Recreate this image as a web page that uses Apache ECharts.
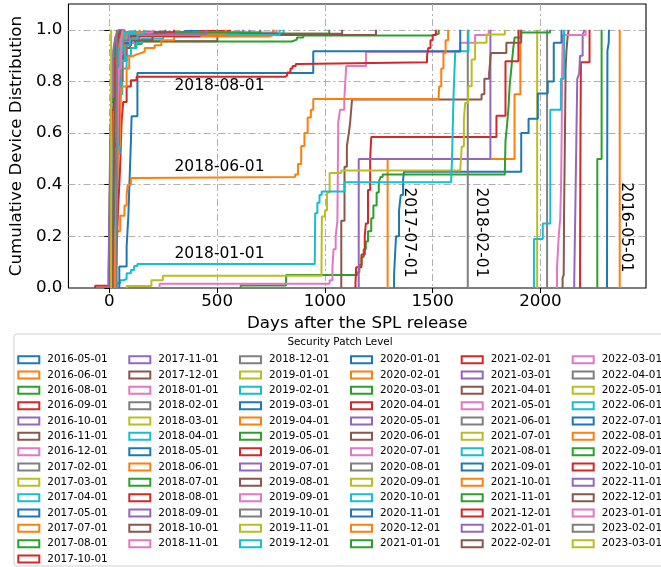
<!DOCTYPE html>
<html><head><meta charset="utf-8">
<script src="https://cdn.jsdelivr.net/npm/echarts@6/dist/echarts.min.js"></script>
<style>html,body{margin:0;padding:0;background:#fff}#c{width:661px;height:567px}</style>
</head><body><div id="c"></div>
<script>
// ---------- categories ----------
const splLevels = ['2016-05-01','2016-06-01','2016-08-01','2016-09-01','2016-10-01','2016-11-01','2016-12-01',
 '2017-02-01','2017-03-01','2017-04-01','2017-05-01','2017-07-01','2017-08-01','2017-10-01','2017-11-01','2017-12-01',
 '2018-01-01','2018-02-01','2018-03-01','2018-04-01','2018-05-01','2018-06-01','2018-07-01','2018-08-01','2018-09-01','2018-10-01','2018-11-01','2018-12-01',
 '2019-01-01','2019-02-01','2019-03-01','2019-04-01','2019-05-01','2019-06-01','2019-07-01','2019-08-01','2019-09-01','2019-10-01','2019-11-01','2019-12-01',
 '2020-01-01','2020-02-01','2020-03-01','2020-04-01','2020-05-01','2020-06-01','2020-07-01','2020-08-01','2020-09-01','2020-10-01','2020-11-01','2020-12-01',
 '2021-01-01','2021-02-01','2021-03-01','2021-04-01','2021-05-01','2021-06-01','2021-07-01','2021-08-01','2021-09-01','2021-10-01','2021-11-01','2021-12-01',
 '2022-01-01','2022-02-01','2022-03-01','2022-04-01','2022-05-01','2022-06-01','2022-07-01','2022-08-01','2022-09-01','2022-10-01','2022-11-01','2022-12-01',
 '2023-01-01','2023-02-01','2023-03-01'];

// ---------- CDF step points [days after release, cumulative share] ----------
const c2016_05 = [[2309,0],[2309,0.03],[2311,0.92],[2317,0.95],[2318,1]];
const c2016_06 = [[2368,0],[2368,1]];
const c2016_08 = [[2264,0],[2264,0.5],[2284,1]];
const c2016_09 = [[2184,0],[2184,0.1],[2186,0.6],[2188,0.874],[2228,1]];
const c2016_10 = [[2157,0],[2157,0.03],[2163,0.354],[2169,0.36],[2171,0.81],[2180,0.83],[2184,0.9],[2196,0.98],[2205,1]];
const c2016_11 = [[2103,0],[2103,0.04],[2108,0.05],[2110,0.3],[2114,0.6],[2117,0.85],[2121,0.92],[2126,0.97],[2131,1]];
const c2016_12 = [[2077,0],[2077,0.08],[2085,0.2],[2092,0.27],[2096,0.4],[2099,0.62],[2101,0.85],[2104,0.98],[2210,1]];
const c2017_02 = [[2031,0],[2031,1]];
const c2017_03 = [[1985,0],[1985,1]];
const c2017_04 = [[1970,0],[1970,0.19],[2011,0.25],[2046,0.69],[2095,0.81],[2110,1]];
const c2017_05 = [[1321,0],[1321,0.05],[1325,0.12],[1330,0.2],[1344,0.3],[1352,0.36],[1363,0.42],[1367,0.45],[1911,0.6],[1945,0.656],[1988,0.753],[2034,0.8],[2062,0.95],[2098,1]];
const c2017_07 = [[1291,0],[1291,0.5],[1880,0.75],[1907,1]];
const c2017_08 = [[609,0],[609,0.01],[820,0.05],[1150,0.06],[1160,0.09],[1170,0.12],[1180,0.15],[1190,0.18],[1200,0.22],[1215,0.27],[1225,0.32],[1240,0.37],[1250,0.41],[1258,0.43],[1268,0.44],[1835,0.45],[1838,0.57],[1845,0.63],[1852,0.7],[1857,0.78],[1865,0.85],[1873,0.92],[1880,0.97],[1911,0.99],[2045,1]];
const c2017_10 = [[1142,0],[1142,0.02],[1145,0.08],[1170,0.13],[1185,0.2],[1190,0.25],[1200,0.38],[1210,0.5],[1215,0.585],[1796,0.667],[1838,0.878],[1898,1]];
const c2017_11 = [[1157,0],[1157,0.5],[1768,1]];
const c2017_12 = [[1076,0],[1076,0.26],[1091,0.47],[1102,0.55],[1111,0.6],[1117,0.64],[1126,0.73],[1727,0.75],[1740,0.81],[1762,0.83],[1770,0.91],[1842,0.95],[1911,1]];
const c2018_01 = [[233,0],[233,0.016],[1022,0.03],[1035,0.08],[1040,0.15],[1050,0.2],[1058,0.26],[1062,0.64],[1070,0.69],[1090,0.73],[1099,0.86],[1191,0.915],[1628,0.95],[1697,0.98],[1760,1]];
const c2018_02 = [[1663,0],[1663,1]];
const c2018_03 = [[80,0],[80,0.008],[195,0.03],[248,0.047],[984,0.05],[986,0.277],[1000,0.3],[1010,0.37],[1022,0.445],[1076,0.455],[1628,0.46],[1635,0.548],[1645,0.652],[1651,0.717],[1665,0.781],[1681,0.885],[1697,0.95],[1750,0.982],[1835,1]];
const c2018_04 = [[34,0],[34,0.018],[50,0.03],[65,0.035],[80,0.057],[100,0.07],[115,0.085],[130,0.093],[953,0.1],[955,0.29],[965,0.33],[975,0.36],[985,0.374],[1091,0.41],[1586,0.42],[1590,0.5],[1597,0.75],[1605,0.917],[1666,1]];
const c2018_05 = [[46,0],[46,0.083],[80,0.16],[88,0.28],[95,0.45],[100,0.57],[103,0.665],[130,0.833],[946,0.917],[1628,1]];
const c2018_06 = [[11,0],[11,0.02],[15,0.16],[30,0.22],[50,0.28],[70,0.32],[80,0.36],[85,0.4],[100,0.426],[130,0.43],[862,0.44],[875,0.48],[890,0.55],[905,0.6],[920,0.66],[935,0.69],[946,0.732],[1528,0.74],[1530,0.78],[1540,0.85],[1550,0.91],[1560,0.96],[1572,1]];
const c2018_07 = [[15,0],[15,0.05],[22,0.3],[30,0.6],[40,0.8],[55,0.88],[80,0.93],[120,0.945],[150,0.955],[846,0.962],[870,0.97],[900,0.978],[1497,0.985],[1528,1]];
const c2018_08 = [[-66,0],[-66,0.009],[25,0.03],[32,0.1],[40,0.3],[49,0.45],[57,0.65],[64,0.72],[80,0.78],[100,0.805],[126,0.818],[815,0.823],[825,0.835],[840,0.85],[850,0.86],[865,0.868],[884,0.874],[1474,0.9],[1480,0.93],[1490,0.96],[1500,0.98],[1515,1]];
const c2018_09 = [[22,0],[22,0.04],[28,0.3],[34,0.55],[50,0.8],[62,0.9],[80,0.95],[120,0.98],[330,0.99],[620,1]];
const c2018_10 = [[20,0],[20,0.05],[28,0.4],[38,0.72],[50,0.88],[70,0.93],[95,0.956],[501,0.98],[1237,1]];
const c2018_11 = [[20,0],[20,0.05],[26,0.32],[32,0.58],[48,0.8],[60,0.9],[78,0.95],[110,0.975],[300,0.99],[776,1]];
const c2018_12 = [[18,0],[18,0.05],[24,0.3],[30,0.55],[46,0.8],[58,0.89],[75,0.94],[100,0.965],[140,0.98],[747,0.985],[760,1]];
const c2019_01 = [[16,0],[16,0.06],[22,0.35],[28,0.6],[42,0.82],[54,0.91],[70,0.96],[100,0.985],[410,1]];
const c2019_02 = [[14,0],[14,0.04],[22,0.3],[30,0.52],[48,0.75],[60,0.85],[80,0.9],[100,0.93],[126,0.95],[150,0.965],[250,0.985],[808,1]];
const c2019_03 = [[12,0],[12,0.05],[18,0.3],[25,0.58],[40,0.8],[52,0.9],[68,0.95],[95,0.98],[350,0.995],[480,1]];
const c2019_04 = [[25,0],[25,0.05],[32,0.3],[40,0.55],[50,0.7],[57,0.78],[80,0.85],[92,0.898],[110,0.905],[126,0.91],[149,0.916],[164,0.93],[210,0.94],[241,0.96],[300,0.974],[739,0.98],[762,1]];
const c2019_05 = [[10,0],[10,0.06],[17,0.35],[24,0.62],[38,0.83],[50,0.92],[64,0.96],[90,0.985],[1020,1]];
const c2019_06 = [[11,0],[11,0.05],[18,0.3],[25,0.56],[42,0.8],[55,0.89],[72,0.945],[100,0.975],[420,0.995],[560,1]];
const c2019_07 = [[9,0],[9,0.06],[15,0.34],[22,0.6],[36,0.82],[48,0.91],[62,0.96],[90,0.985],[650,1]];
const c2019_08 = [[13,0],[13,0.05],[20,0.3],[27,0.55],[44,0.8],[58,0.9],[75,0.94],[100,0.96],[200,0.985],[1080,1]];
const c2019_09 = [[8,0],[8,0.05],[14,0.35],[20,0.6],[34,0.83],[45,0.92],[58,0.965],[85,0.99],[600,1]];
const c2019_10 = [[10,0],[10,0.06],[16,0.36],[22,0.62],[36,0.84],[48,0.93],[62,0.97],[90,0.99],[500,1]];
const c2019_11 = [[7,0],[7,0.05],[13,0.34],[19,0.6],[32,0.83],[44,0.92],[57,0.965],[80,0.99],[320,1]];
const c2019_12 = [[11,0],[11,0.05],[18,0.3],[25,0.54],[42,0.78],[55,0.88],[72,0.94],[95,0.965],[130,0.98],[790,1]];
const c2020_01 = [[6,0],[6,0.06],[12,0.36],[18,0.63],[31,0.85],[42,0.93],[55,0.97],[78,0.99],[380,1]];
const c2020_02 = [[9,0],[9,0.05],[15,0.33],[22,0.58],[37,0.82],[50,0.91],[65,0.96],[92,0.985],[540,1]];
const c2020_03 = [[7,0],[7,0.06],[13,0.36],[19,0.63],[32,0.85],[43,0.93],[56,0.97],[80,0.99],[700,1]];
const c2020_04 = [[6,0],[6,0.05],[12,0.35],[18,0.62],[31,0.84],[42,0.93],[55,0.97],[76,0.99],[300,1]];
const c2020_05 = [[8,0],[8,0.05],[14,0.33],[21,0.58],[36,0.82],[48,0.91],[63,0.96],[88,0.985],[450,1]];
const c2020_06 = [[5,0],[5,0.06],[11,0.37],[17,0.64],[30,0.85],[41,0.93],[54,0.97],[75,0.99],[260,1]];
const c2020_07 = [[4,0],[4,0.05],[10,0.36],[16,0.63],[29,0.85],[40,0.93],[52,0.97],[72,0.99],[200,1]];
const c2020_08 = [[5,0],[5,0.06],[11,0.38],[17,0.65],[29,0.86],[40,0.94],[52,0.975],[70,1]];
const c2020_09 = [[4,0],[4,0.05],[10,0.37],[16,0.64],[28,0.86],[39,0.94],[51,0.975],[68,1]];
const c2020_10 = [[7,0],[7,0.05],[13,0.33],[20,0.6],[34,0.83],[46,0.92],[60,0.965],[82,0.985],[160,1]];
const c2020_11 = [[3,0],[3,0.06],[9,0.38],[15,0.66],[27,0.87],[38,0.945],[50,0.98],[66,1]];
const c2020_12 = [[5,0],[5,0.05],[11,0.35],[17,0.62],[30,0.84],[42,0.93],[55,0.97],[78,0.99],[140,1]];
const c2021_01 = [[4,0],[4,0.06],[10,0.38],[16,0.66],[28,0.87],[39,0.945],[51,0.98],[66,1]];
const c2021_02 = [[3,0],[3,0.05],[9,0.37],[15,0.65],[27,0.86],[38,0.94],[50,0.975],[64,1]];
const c2021_03 = [[5,0],[5,0.06],[11,0.37],[17,0.64],[29,0.86],[40,0.94],[52,0.975],[68,1]];
const c2021_04 = [[2,0],[2,0.05],[8,0.37],[14,0.65],[26,0.86],[37,0.94],[49,0.975],[63,1]];
const c2021_05 = [[3,0],[3,0.06],[9,0.39],[15,0.67],[27,0.88],[37,0.95],[48,0.98],[60,1]];
const c2021_06 = [[4,0],[4,0.05],[10,0.37],[16,0.65],[28,0.86],[39,0.94],[51,0.975],[65,1]];
const c2021_07 = [[2,0],[2,0.06],[8,0.39],[14,0.67],[25,0.88],[35,0.95],[46,0.98],[58,1]];
const c2021_08 = [[3,0],[3,0.05],[9,0.35],[15,0.62],[27,0.85],[38,0.93],[50,0.97],[70,0.99],[120,1]];
const c2021_09 = [[1,0],[1,0.06],[7,0.4],[13,0.68],[24,0.88],[34,0.95],[45,0.98],[56,1]];
const c2021_10 = [[2,0],[2,0.05],[8,0.37],[14,0.65],[26,0.87],[36,0.94],[48,0.975],[62,1]];
const c2021_11 = [[1,0],[1,0.06],[7,0.41],[13,0.69],[23,0.89],[33,0.955],[44,0.985],[54,1]];
const c2021_12 = [[0,0],[0,0.05],[6,0.38],[12,0.67],[23,0.88],[33,0.95],[44,0.98],[55,1]];
const c2022_01 = [[2,0],[2,0.06],[8,0.39],[14,0.67],[25,0.88],[35,0.95],[46,0.98],[58,1]];
const c2022_02 = [[0,0],[0,0.06],[6,0.4],[12,0.69],[22,0.89],[32,0.955],[42,0.985],[52,1]];
const c2022_03 = [[1,0],[1,0.05],[7,0.38],[13,0.66],[24,0.88],[34,0.95],[45,0.98],[57,1]];
const c2022_04 = [[-1,0],[-1,0.06],[5,0.42],[11,0.7],[21,0.9],[30,0.96],[40,0.985],[50,1]];
const c2022_05 = [[0,0],[0,0.06],[6,0.41],[12,0.7],[22,0.9],[31,0.96],[41,0.985],[50,1]];
const c2022_06 = [[1,0],[1,0.05],[7,0.38],[13,0.66],[24,0.88],[34,0.95],[45,0.98],[58,1]];
const c2022_07 = [[-2,0],[-2,0.07],[4,0.43],[10,0.72],[20,0.9],[29,0.96],[39,0.99],[48,1]];
const c2022_08 = [[0,0],[0,0.06],[6,0.39],[12,0.67],[23,0.88],[33,0.955],[44,0.985],[56,1]];
const c2022_09 = [[-3,0],[-3,0.06],[3,0.44],[9,0.73],[19,0.91],[28,0.965],[38,0.99],[46,1]];
const c2022_10 = [[-1,0],[-1,0.05],[5,0.4],[11,0.69],[21,0.89],[31,0.955],[41,0.985],[52,1]];
const c2022_11 = [[-4,0],[-4,0.06],[2,0.45],[8,0.74],[18,0.92],[27,0.97],[36,0.99],[44,1]];
const c2022_12 = [[15,0],[15,0.1],[20,0.4],[25,0.7],[32,0.9],[40,0.97],[50,1]];
const c2023_01 = [[30,0],[30,0.2],[38,0.6],[45,0.85],[55,0.97],[62,1]];
const c2023_02 = [[34,0],[34,1]];
const c2023_03 = [[8,0],[8,1]];

const cdfData = [c2016_05,c2016_06,c2016_08,c2016_09,c2016_10,c2016_11,c2016_12,
 c2017_02,c2017_03,c2017_04,c2017_05,c2017_07,c2017_08,c2017_10,c2017_11,c2017_12,
 c2018_01,c2018_02,c2018_03,c2018_04,c2018_05,c2018_06,c2018_07,c2018_08,c2018_09,c2018_10,c2018_11,c2018_12,
 c2019_01,c2019_02,c2019_03,c2019_04,c2019_05,c2019_06,c2019_07,c2019_08,c2019_09,c2019_10,c2019_11,c2019_12,
 c2020_01,c2020_02,c2020_03,c2020_04,c2020_05,c2020_06,c2020_07,c2020_08,c2020_09,c2020_10,c2020_11,c2020_12,
 c2021_01,c2021_02,c2021_03,c2021_04,c2021_05,c2021_06,c2021_07,c2021_08,c2021_09,c2021_10,c2021_11,c2021_12,
 c2022_01,c2022_02,c2022_03,c2022_04,c2022_05,c2022_06,c2022_07,c2022_08,c2022_09,c2022_10,c2022_11,c2022_12,
 c2023_01,c2023_02,c2023_03];

// annotation labels
const noteTexts = ['2018-08-01','2018-06-01','2018-01-01','2017-07-01','2018-02-01','2016-05-01'];
const noteDays  = [302, 302, 302, 1392, 1724, 2398];
const noteCdf   = [0.781, 0.470, 0.130, 0.215, 0.215, 0.235];
const noteVertical = [false, false, false, true, true, true];

// ---------- styling ----------
const tab10 = ['#1f77b4','#ff7f0e','#2ca02c','#d62728','#9467bd','#8c564b','#e377c2','#7f7f7f','#bcbd22','#17becf'];
const FONT = 'DejaVu Sans';
const colorOf = i => tab10[i % 10];

const chart = echarts.init(document.getElementById('c'), null, {renderer: 'canvas'});

const series = splLevels.map((name, i) => ({
  name, type: 'line', step: 'end', data: cdfData[i],
  symbol: 'none', showSymbol: false, silent: true, animation: false,
  lineStyle: {color: colorOf(i), width: 2},
  itemStyle: {color: colorOf(i)},
  emphasis: {disabled: true}
}));

const colStarts = [0, 14, 27, 40, 53, 66, 79];
const colLeft = [17.3, 128.3, 239, 350, 460.7, 571.7];
const legends = colLeft.map((left, c) => ({
  orient: 'vertical', left, top: 353.2, padding: 0, itemGap: 2.33,
  itemWidth: 21, itemHeight: 7, icon: 'rect', selectedMode: false,
  textStyle: {fontFamily: FONT, fontSize: 10.4, color: '#000', lineHeight: 13, padding: [0, 0, 0, 3]},
  data: splLevels.slice(colStarts[c], colStarts[c + 1]).map((n, k) => ({
    name: n,
    itemStyle: {color: 'transparent', borderColor: colorOf(colStarts[c] + k), borderWidth: 2}
  }))
}));

const gridDash = [7, 3, 2, 3];
const option = {
  animation: false,
  backgroundColor: '#fff',
  textStyle: {fontFamily: FONT},
  grid: {left: 63, top: 4, width: 583, height: 284, show: true, borderColor: '#000', borderWidth: 1.1, backgroundColor: 'transparent'},
  xAxis: {
    type: 'value', min: -190, max: 2490, splitNumber: 5, minInterval: 500, maxInterval: 500,
    name: 'Days after the SPL release', nameLocation: 'middle', nameGap: 26,
    nameTextStyle: {fontFamily: FONT, fontSize: 16.7, color: '#000'},
    axisLine: {show: false},
    axisTick: {show: true, length: 5, lineStyle: {color: '#000', width: 1}},
    axisLabel: {show: true, margin: 5, fontFamily: FONT, fontSize: 16.7, color: '#000', showMinLabel: false, showMaxLabel: false, formatter: v => String(v)},
    splitLine: {show: true, showMinLine: false, showMaxLine: false, lineStyle: {color: '#b0b0b0', width: 1, type: gridDash}}
  },
  yAxis: {
    type: 'value', min: 0, max: 1.1, splitNumber: 5, minInterval: 0.2, maxInterval: 0.2,
    name: 'Cumulative Device Distribution', nameLocation: 'middle', nameGap: 36,
    nameTextStyle: {fontFamily: FONT, fontSize: 16.7, color: '#000'},
    axisLine: {show: false},
    axisTick: {show: true, length: 5, lineStyle: {color: '#000', width: 1}},
    axisLabel: {show: true, margin: 6, fontFamily: FONT, fontSize: 16.7, color: '#000', showMaxLabel: false, formatter: v => v.toFixed(1)},
    splitLine: {show: true, showMinLine: false, showMaxLine: false, lineStyle: {color: '#b0b0b0', width: 1, type: gridDash}}
  },
  legend: legends,
  series
};
chart.setOption(option);

const graphics = [
  {type: 'rect', z: 0, shape: {x: 14, y: 334, width: 652, height: 232, r: 3}, style: {fill: '#fff', stroke: '#d0d0d0', lineWidth: 1}},
  {type: 'text', z: 5, x: 340, y: 342.7, style: {text: 'Security Patch Level', fontFamily: FONT, fontSize: 10.4, fill: '#000', align: 'center', verticalAlign: 'middle'}}
];
noteTexts.forEach((t, i) => {
  const p = chart.convertToPixel({gridIndex: 0}, [noteDays[i], noteCdf[i]]);
  graphics.push({
    type: 'text', z: 10, x: p[0], y: p[1], rotation: noteVertical[i] ? -Math.PI / 2 : 0,
    style: {text: t, fontFamily: FONT, fontSize: 15.5, fill: '#000',
      align: noteVertical[i] ? 'center' : 'left', verticalAlign: 'middle'}
  });
});
chart.setOption({graphic: graphics});
</script></body></html>
